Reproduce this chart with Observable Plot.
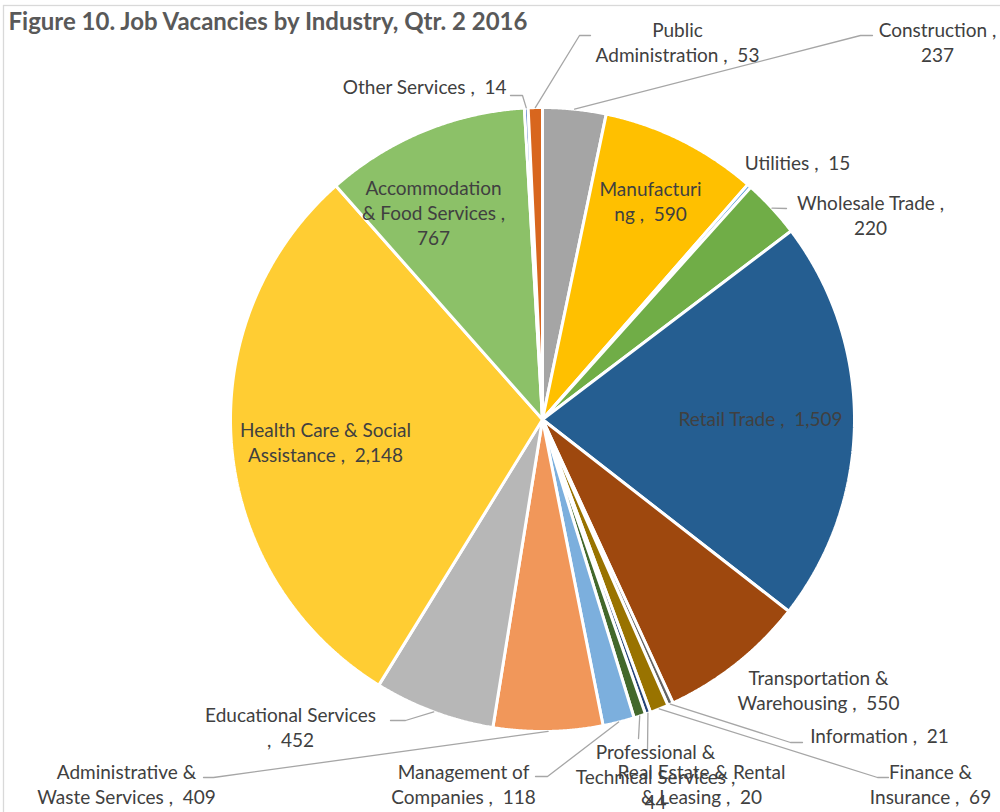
<!DOCTYPE html>
<html><head><meta charset="utf-8">
<script src="https://cdn.jsdelivr.net/npm/d3@7"></script>
<script src="https://cdn.jsdelivr.net/npm/@observablehq/plot@0.6"></script>
<style>body{margin:0;background:#fff;overflow:hidden}</style>
</head><body><div id="chart"></div>
<script>
// ---- data ----
const industries = ["Construction","Manufacturing","Utilities","Wholesale Trade","Retail Trade","Transportation & Warehousing","Information","Finance & Insurance","Real Estate & Rental & Leasing","Professional & Technical Services","Management of Companies","Administrative & Waste Services","Educational Services","Health Care & Social Assistance","Accommodation & Food Services","Other Services","Public Administration"];
const vacancies = [237,590,15,220,1509,550,21,69,20,44,118,409,452,2148,767,14,53];
const sliceColors = ["#A5A5A5","#FFC000","#5B9BD5","#70AD47","#255E91","#9E480E","#636363","#997300","#264478","#43682B","#7CAFDD","#F1975A","#B7B7B7","#FFCD33","#8CC168","#4472C4","#D8661E"];
// label wrapping as in the original ({v} = value)
const labelTemplates = ["Construction ,\n{v}","Manufacturi\nng ,  {v}","Utilities ,  {v}","Wholesale Trade ,\n{v}","Retail Trade ,  {v}","Transportation &\nWarehousing ,  {v}","Information ,  {v}","Finance &\nInsurance ,  {v}","Real Estate & Rental\n& Leasing ,  {v}","Professional &\nTechnical Services ,\n{v}","Management of\nCompanies ,  {v}","Administrative &\nWaste Services ,  {v}","Educational Services\n,  {v}","Health Care & Social\nAssistance ,  {v}","Accommodation\n& Food Services ,\n{v}","Other Services ,  {v}","Public\nAdministration ,  {v}"];
const title = "Figure 10. Job Vacancies by Industry, Qtr. 2 2016";

// ---- layout (pixels) ----
const cx = 542, cy = 419, R = 312;
const labelPos = [[937,42],[650,201],[797,163],[870,215],[760,419],[818,690],[879,736],[930,784],[701,784],[655,777],[463,784],[126,784],[290,727],[325,442],[433,213],[506,89],[677,42]];
const labelAnchor = ["middle","middle","middle","middle","middle","middle","middle","middle","middle","middle","middle","middle","middle","middle","middle","end","middle"];
// leader elbows/ends (start is slice edge at mid angle)
const leaders = {
  0: [[860,35],[872,35]],
  16: [[579,35],[590,35]],
  15: [[522,95],[510,95]],
  3: [[786,208]],
  6: [[790,742],[802,742]],
  7: [[877,777],[888,777]],
  8: [[647,750]],
  9: [[638,738]],
  10: [[547,776],[535,776]],
  11: [[213,777],[203,777]],
  12: [[405,720],[390,720]]
};
const fontFamily = "Lato, 'Open Sans', sans-serif";
const fontSize = 19;

const ux = px => (px - cx) / R;
const uy = py => (cy - py) / R;

const arcs = d3.pie().sort(null).value(d => d)(vacancies);
const slicePts = [];
arcs.forEach((a, i) => {
  slicePts.push({i, x: 0, y: 0, color: sliceColors[i]});
  const n = Math.max(2, Math.ceil((a.endAngle - a.startAngle) / (Math.PI / 720)));
  for (let k = 0; k <= n; k++) {
    const t = a.startAngle + (a.endAngle - a.startAngle) * k / n;
    slicePts.push({i, x: Math.sin(t), y: Math.cos(t), color: sliceColors[i]});
  }
});

const leaderPts = [];
Object.entries(leaders).forEach(([k, pts]) => {
  const i = +k, a = arcs[i], m = (a.startAngle + a.endAngle) / 2;
  leaderPts.push({i, x: Math.sin(m), y: Math.cos(m)});
  pts.forEach(([px, py]) => leaderPts.push({i, x: ux(px), y: uy(py)}));
});

const fmt = d3.format(",");
const labels = industries.map((name, i) => ({
  name,
  text: labelTemplates[i].replace("{v}", fmt(vacancies[i])).replace(/  /g, " \u00a0"),
  x: ux(labelPos[i][0]), y: uy(labelPos[i][1]), anchor: labelAnchor[i]
}));

const chart = Plot.plot({
  width: 1000, height: 812, margin: 0,
  x: {domain: [-1, 1], range: [cx - R, cx + R], axis: null},
  y: {domain: [-1, 1], range: [cy + R, cy - R], axis: null},
  color: {type: "identity"},
  style: {fontFamily, background: "white"},
  marks: [
    Plot.frame({stroke: "#d9d9d9", strokeWidth: 1.3, insetLeft: 3, insetTop: 5, insetRight: -10, insetBottom: -10}),
    Plot.line(slicePts, {x: "x", y: "y", z: "i", fill: "color", stroke: "white", strokeWidth: 3, strokeLinejoin: "miter", curve: "linear-closed"}),
    Plot.line(leaderPts, {x: "x", y: "y", z: "i", stroke: "#a6a6a6", strokeWidth: 1.3}),
    Plot.text(labels.filter(d => d.anchor === "middle"), {x: "x", y: "y", dy: -1.5, text: "text", textAnchor: "middle", lineAnchor: "middle", lineHeight: 25 / fontSize, fontSize, fill: "#404040"}),
    Plot.text(labels.filter(d => d.anchor === "end"), {x: "x", y: "y", dy: -1.5, text: "text", textAnchor: "end", lineAnchor: "middle", fontSize, fill: "#404040"}),
    Plot.text([title], {frameAnchor: "top-left", dx: 8, dy: 12, textAnchor: "start", lineAnchor: "top", fontSize: 24, fontWeight: "bold", fill: "#595959"})
  ]
});
document.getElementById("chart").append(chart);
</script>
</body></html>
